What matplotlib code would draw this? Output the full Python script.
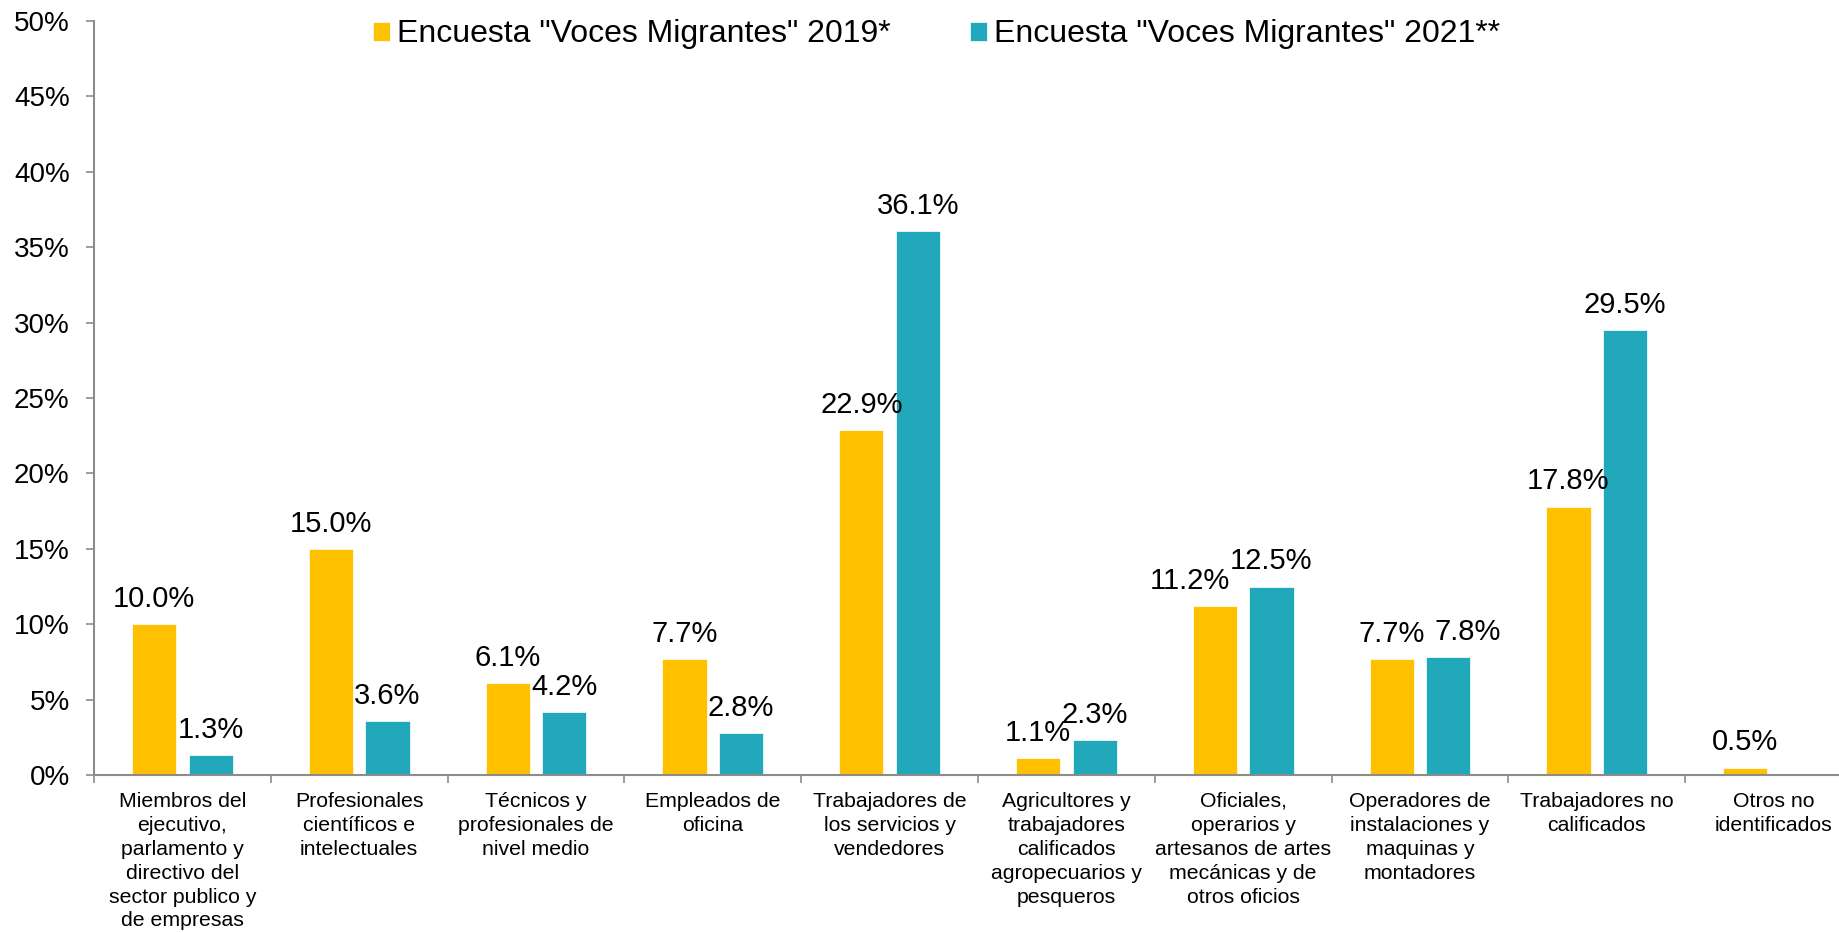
import matplotlib.pyplot as plt
import numpy as np

plt.rcParams['font.family'] = ['Liberation Sans', 'DejaVu Sans']

# data
categories = ['Miembros del\nejecutivo,\nparlamento y\ndirectivo del\nsector publico y\nde empresas',
              'Profesionales\ncientíficos e\nintelectuales',
              'Técnicos y\nprofesionales de\nnivel medio',
              'Empleados de\noficina',
              'Trabajadores de\nlos servicios y\nvendedores',
              'Agricultores y\ntrabajadores\ncalificados\nagropecuarios y\npesqueros',
              'Oficiales,\noperarios y\nartesanos de artes\nmecánicas y de\notros oficios',
              'Operadores de\ninstalaciones y\nmaquinas y\nmontadores',
              'Trabajadores no\ncalificados',
              'Otros no\nidentificados']
v2019 = [10.0, 15.0, 6.1, 7.7, 22.9, 1.1, 11.2, 7.7, 17.8, 0.5]
v2021 = [1.3, 3.6, 4.2, 2.8, 36.1, 2.3, 12.5, 7.8, 29.5, np.nan]
series_names = ['Encuesta "Voces Migrantes" 2019*', 'Encuesta "Voces Migrantes" 2021**']
yticks = [0, 5, 10, 15, 20, 25, 30, 35, 40, 45, 50]

c1 = '#FFC000'
c2 = '#21A8BB'
grey = '#8C8C8C'

# labels nudged sideways in the original (points)
nudge_2019 = {6: -18}
nudge_2021 = {7: 14}

fig = plt.figure(figsize=(18.4, 9.33), dpi=100)
ax = fig.add_axes([0.0511, 0.1693, 0.9489, 0.8082])

x = np.arange(len(categories))
w = 0.25
off = 0.16
ax.bar(x - off, v2019, w, color=c1, label=series_names[0], edgecolor='white', linewidth=0.5)
ax.bar(x + off, v2021, w, color=c2, label=series_names[1], edgecolor='white', linewidth=0.5)

for i, (xi, v) in enumerate(zip(x - off, v2019)):
    ax.annotate('%.1f%%' % v, (xi, v), xytext=(nudge_2019.get(i, 0), 8), textcoords='offset points',
                ha='center', va='bottom', fontsize=21)
for i, (xi, v) in enumerate(zip(x + off, v2021)):
    if np.isnan(v):
        continue
    ax.annotate('%.1f%%' % v, (xi, v), xytext=(nudge_2021.get(i, 0), 8), textcoords='offset points',
                ha='center', va='bottom', fontsize=21)

ax.set_yticks(yticks)
ax.set_yticklabels(['%d%%' % t for t in yticks], fontsize=20)

# category labels centred, ticks between groups
ax.set_xticks(x)
ax.set_xticklabels(categories, fontsize=15.3, linespacing=1.33)
ax.tick_params(axis='x', length=0, pad=12)
ax.set_xticks(np.arange(len(categories) + 1) - 0.5, minor=True)
ax.tick_params(axis='x', which='minor', length=6, color=grey, width=1.2)
ax.tick_params(axis='y', length=6, color=grey, width=1.2, pad=11.5)

ax.set_ylim(0, 50)
ax.set_xlim(-0.5, 9.376)

for s in ['top', 'right']:
    ax.spines[s].set_visible(False)
for s in ['left', 'bottom']:
    ax.spines[s].set_color(grey)
    ax.spines[s].set_linewidth(1.5)

fig.legend(loc='upper center', bbox_to_anchor=(0.509, 1.01), ncol=2, frameon=False,
           fontsize=23, handlelength=0.53, handleheight=0.53, handletextpad=0.22,
           columnspacing=2.5)

fig.savefig('out.png', dpi=100)
plt.close(fig)
